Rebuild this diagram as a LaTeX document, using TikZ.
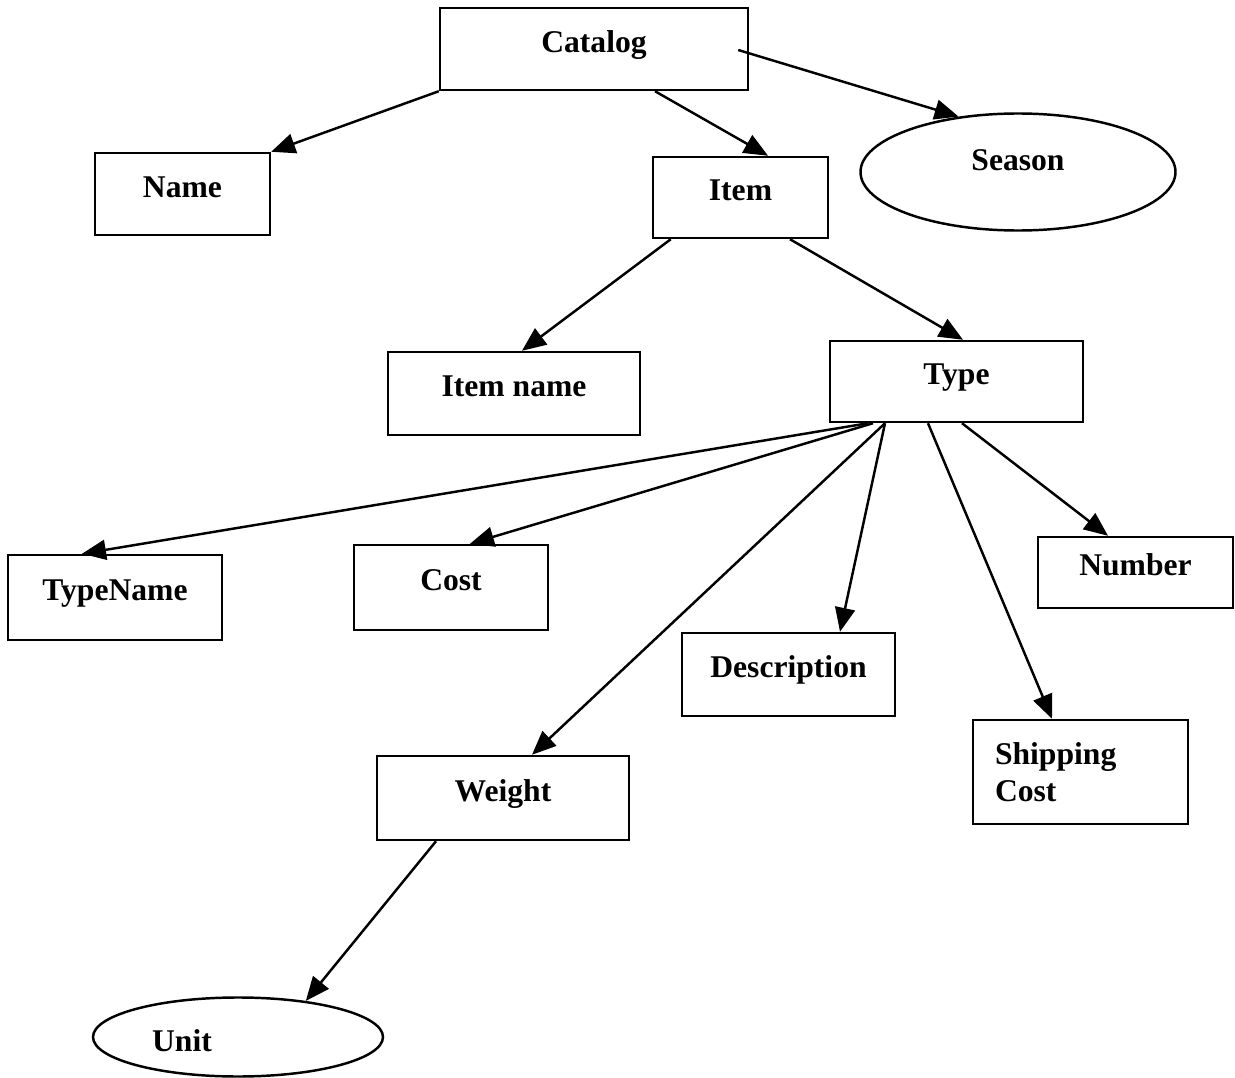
\documentclass[tikz,border=0pt]{standalone}
\usepackage{fontspec}
\setmainfont{Liberation Serif}
\usetikzlibrary{arrows.meta,shapes.geometric,calc}

\begin{document}
\begin{tikzpicture}[x=0.02cm, y=-0.02cm,
	font=\bfseries\fontsize{18}{21}\selectfont,
	box/.style={draw, line width=1.4pt, rectangle, text height=0.45cm, text depth=0.32cm},
	oval/.style={draw, line width=1.4pt, ellipse},
	arr/.style={-{Triangle[length=0.48cm,width=0.4cm]}, line width=1.4pt}]
%
%Koordinaten & Knoten

\def \px {0.02cm}

\useasboundingbox (0,0) rectangle (1235,1078);

%Boxes
	\node [box, minimum width=308*\px, minimum height=82*\px] (catalog) at (594,49) {Catalog};
	\node [box, minimum width=175*\px, minimum height=82*\px] (name) at (182.5,194) {Name};
	\node [box, minimum width=175*\px, minimum height=81*\px] (item) at (740.5,197.5) {Item};
	\node [box, minimum width=252*\px, minimum height=83*\px] (itemname) at (514,393.5) {Item name};
	\node [box, minimum width=253*\px, minimum height=81*\px] (type) at (956.5,381.5) {Type};
	\node [box, minimum width=214*\px, minimum height=85*\px] (typename) at (115,597.5) {TypeName};
	\node [box, minimum width=194*\px, minimum height=85*\px] (cost) at (451,587.5) {Cost};
	\node [box, minimum width=195*\px, minimum height=71*\px] (number) at (1135.5,572.5) {Number};
	\node [box, minimum width=213*\px, minimum height=83*\px] (description) at (788.5,674.5) {Description};
	\node [box, minimum width=215*\px, minimum height=104*\px, text width=171*\px, inner xsep=22*\px,
		align=left, text height=, text depth=] (shipping) at (1080.5,772) {Shipping\\Cost};
	\node [box, minimum width=252*\px, minimum height=84*\px] (weight) at (503,798) {Weight};

%Ellipsen
	\node [oval, minimum width=315*\px, minimum height=117*\px,
		label={[yshift=12*\px]center:Season}] (season) at (1018,172) {};
	\node [oval, minimum width=290*\px, minimum height=79*\px,
		label={[xshift=-56*\px, yshift=-4*\px]center:Unit}] (unit) at (238,1037) {};

%Pfeile
	\draw [arr] (catalog.south west) -- (name.north east);
	\draw [arr] ($(catalog.south)+(61,0)$) -- ($(item.north)+(27.5,0)$);
	\draw [arr] ($(catalog.east)+(-11,1)$) -- (season.137);

	\draw [arr] ($(item.south west)+(19,0)$) -- ($(itemname.north)+(8,0)$);
	\draw [arr] ($(item.south)+(49.5,0)$) -- ($(type.north)+(6.5,0)$);

	\foreach \sx/\dst/\ex in {-88.5/typename/-33, -83.5/cost/19, -71.5/weight/29,
		-71.5/description/51.5, -28.5/shipping/-28.5, 5.5/number/-27.5}{
		\draw [arr] ($(type.south)+(\sx,0)$) -- ($(\dst.north)+(\ex,0)$);
	}

	\draw [arr] ($(weight.south)+(-67,0)$) -- (unit.28);

\end{tikzpicture}
\end{document}
